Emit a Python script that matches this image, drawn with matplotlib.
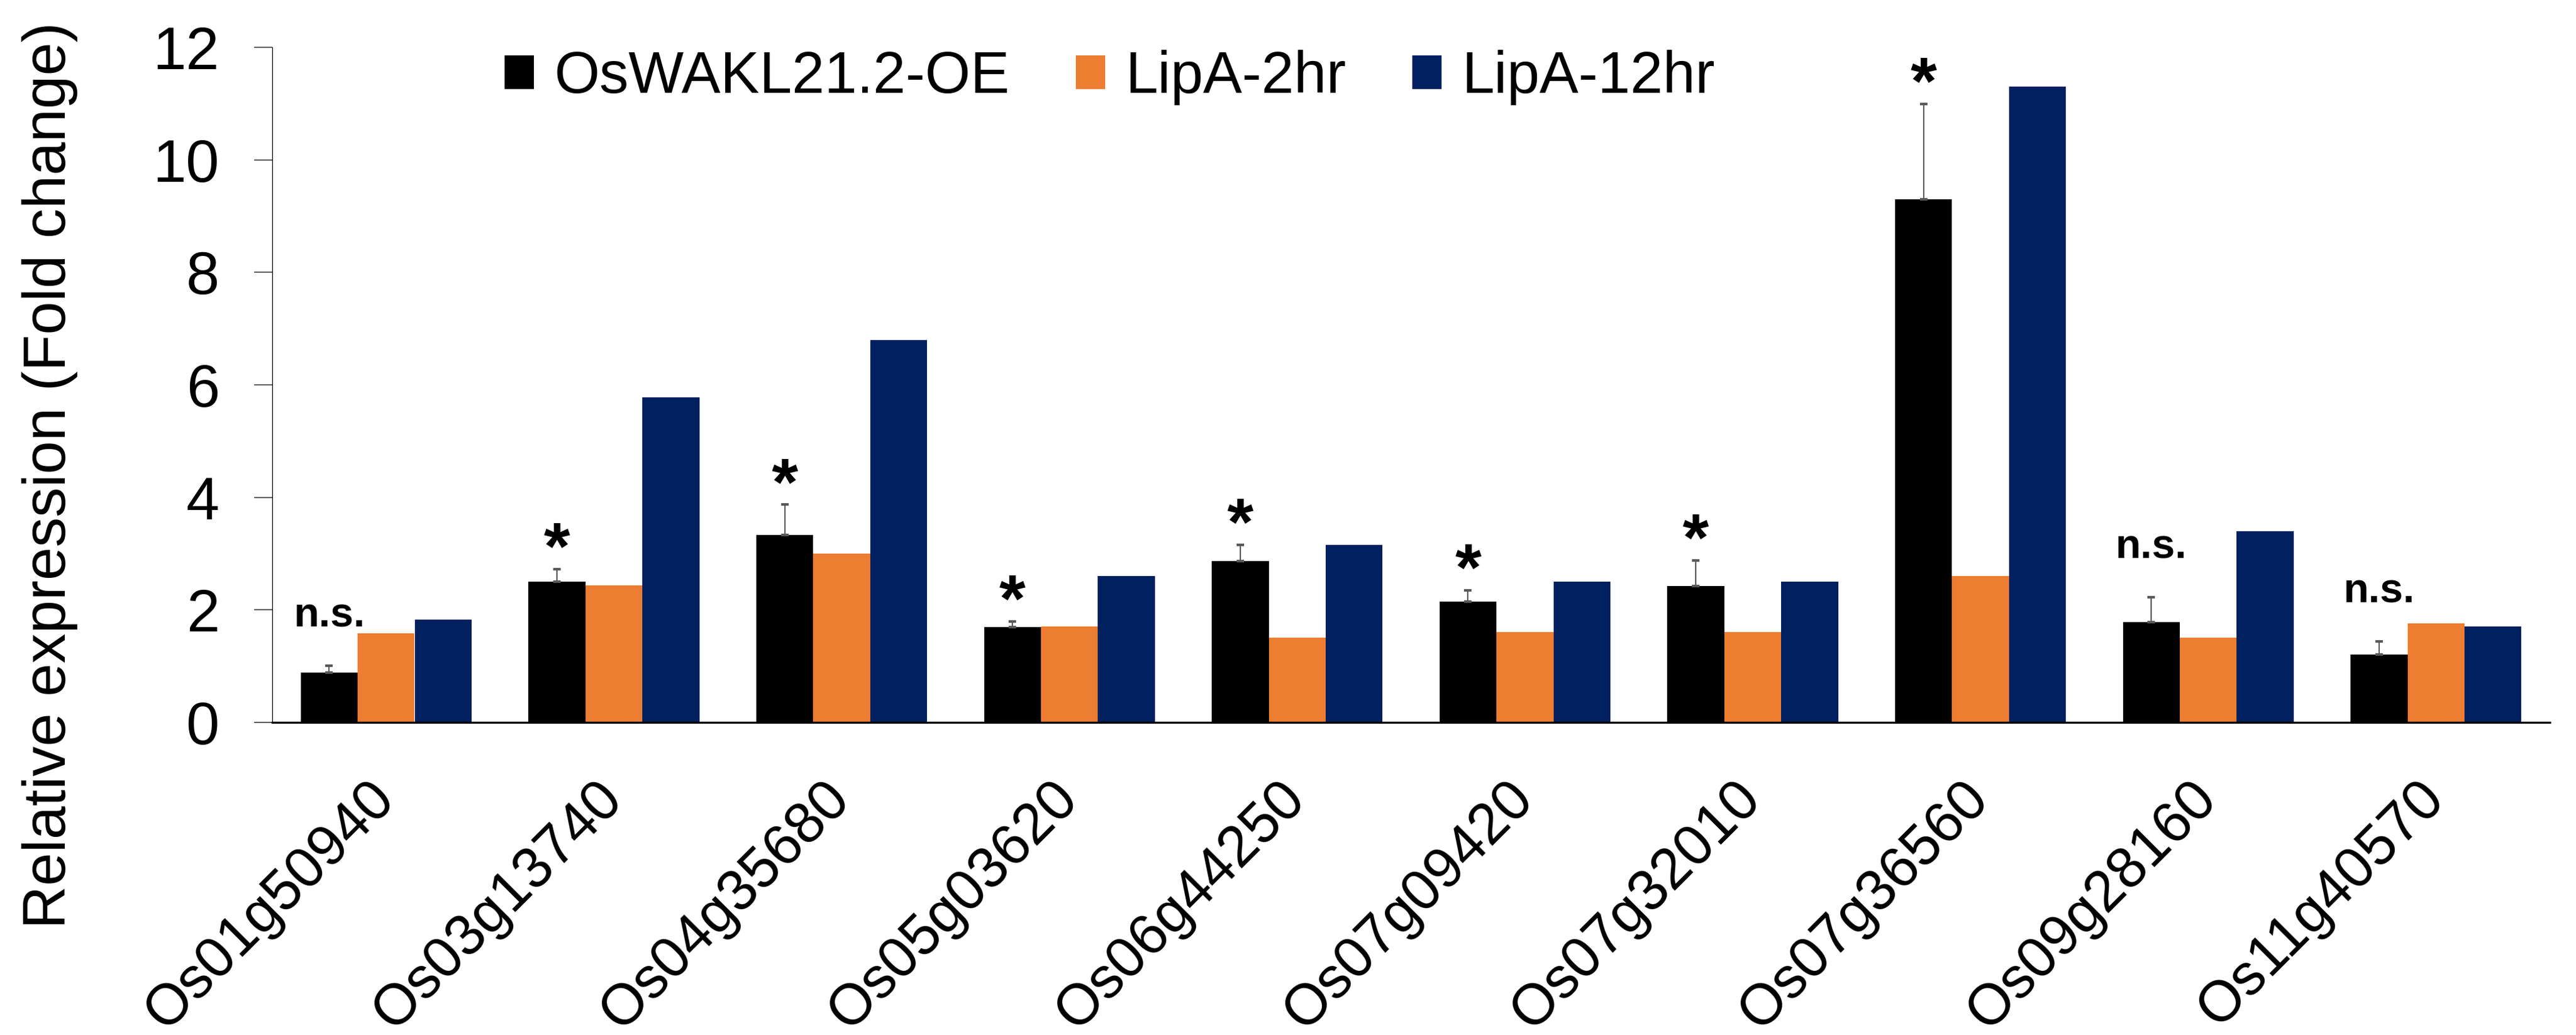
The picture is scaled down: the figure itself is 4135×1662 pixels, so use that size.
import matplotlib
matplotlib.use("Agg")
import matplotlib.pyplot as plt
import matplotlib.transforms as mtransforms
import numpy as np
from matplotlib.textpath import TextPath
from matplotlib.font_manager import FontProperties

plt.rcParams["font.family"] = ["Liberation Sans", "DejaVu Sans"]

# Genes tested by qRT-PCR
genes = ["Os01g50940", "Os03g13740", "Os04g35680", "Os05g03620", "Os06g44250",
         "Os07g09420", "Os07g32010", "Os07g36560", "Os09g28160", "Os11g40570"]

# Fold change per condition
oe_mean = [0.89, 2.50, 3.33, 1.69, 2.87, 2.15, 2.42, 9.30, 1.78, 1.21]
oe_err = [0.12, 0.22, 0.54, 0.10, 0.29, 0.20, 0.46, 1.69, 0.44, 0.23]
lipa_2hr = [1.58, 2.43, 3.00, 1.70, 1.51, 1.60, 1.60, 2.60, 1.51, 1.76]
lipa_12hr = [1.83, 5.78, 6.80, 2.60, 3.15, 2.50, 2.50, 11.30, 3.40, 1.70]

# Significance of the overexpression line
significance = ["n.s.", "*", "*", "*", "*", "*", "*", "*", "n.s.", "n.s."]

series_names = ["OsWAKL21.2-OE", "LipA-2hr", "LipA-12hr"]
colors = ["#000000", "#ED7D31", "#002060"]

W, H, DPI = 4135, 1662, 300
fig = plt.figure(figsize=(W / DPI, H / DPI), dpi=DPI)
left, right, bottom, top = 437 / W, 4093 / W, 1 - 1160 / H, 1 - 76 / H
ax = fig.add_axes([left, bottom, right - left, top - bottom])

x = np.arange(len(genes))
w = 0.25
ax.bar(x - w, oe_mean, w, color=colors[0], label=series_names[0])
ax.bar(x, lipa_2hr, w, color=colors[1], label=series_names[1])
ax.bar(x + w, lipa_12hr, w, color=colors[2], label=series_names[2])
ax.errorbar(x - w, oe_mean, yerr=[np.zeros(len(x)), oe_err], fmt="none",
            ecolor="#595959", elinewidth=0.5, capsize=1.5, capthick=1.0)

ax.set_xlim(-0.5, len(genes) - 0.5)
ax.set_ylim(0, 12)
ax.set_yticks(np.arange(0, 13, 2))

for s in ("top", "right"):
    ax.spines[s].set_visible(False)
ax.spines["left"].set_linewidth(0.3)
ax.spines["bottom"].set_linewidth(0.8)

ax.tick_params(axis="y", direction="out", length=7, width=0.4,
               labelsize=23, pad=13.4, color="#404040")
ax.tick_params(axis="x", length=0, labelsize=22, pad=18.7)
ax.set_xticks(x)
ax.set_xticklabels(genes)
shift = mtransforms.ScaledTranslation(-7.4 / 72, 0, fig.dpi_scale_trans)
for lbl in ax.get_xticklabels():
    lbl.set_rotation(45)
    lbl.set_ha("right")
    lbl.set_va("top")
    lbl.set_rotation_mode("anchor")
    lbl.set_transform(lbl.get_transform() + shift)

ax.set_ylabel("Relative expression (Fold change)", fontsize=23)
ax.yaxis.set_label_coords(-0.0853, 0.366)

ax.legend(loc="center left", bbox_to_anchor=(0.102, 0.955), ncol=3,
          frameon=False, fontsize=22.5, handlelength=0.5, handleheight=0.5,
          handletextpad=0.35, columnspacing=1.13, borderpad=0,
          borderaxespad=0)

# Significance marks above the error bars of the overexpression line
star_size = 26
star_fp = FontProperties(family="Liberation Sans", weight="bold")
star_ymin = TextPath((0, 0), "*", size=star_size, prop=star_fp).get_extents().y0
star_gap = 8.2
ns_gap = 15.0
for i, s in enumerate(significance):
    cap = oe_mean[i] + oe_err[i]
    if s == "*":
        ax.annotate(s, xy=(x[i] - w, cap), xytext=(0, star_gap - star_ymin),
                    textcoords="offset points", ha="center", va="baseline",
                    fontsize=star_size, fontweight="bold")
    else:
        ax.annotate(s, xy=(x[i] - w, cap), xytext=(0, ns_gap),
                    textcoords="offset points", ha="center", va="baseline",
                    fontsize=16, fontweight="bold")

fig.savefig("out.png", dpi=DPI)
